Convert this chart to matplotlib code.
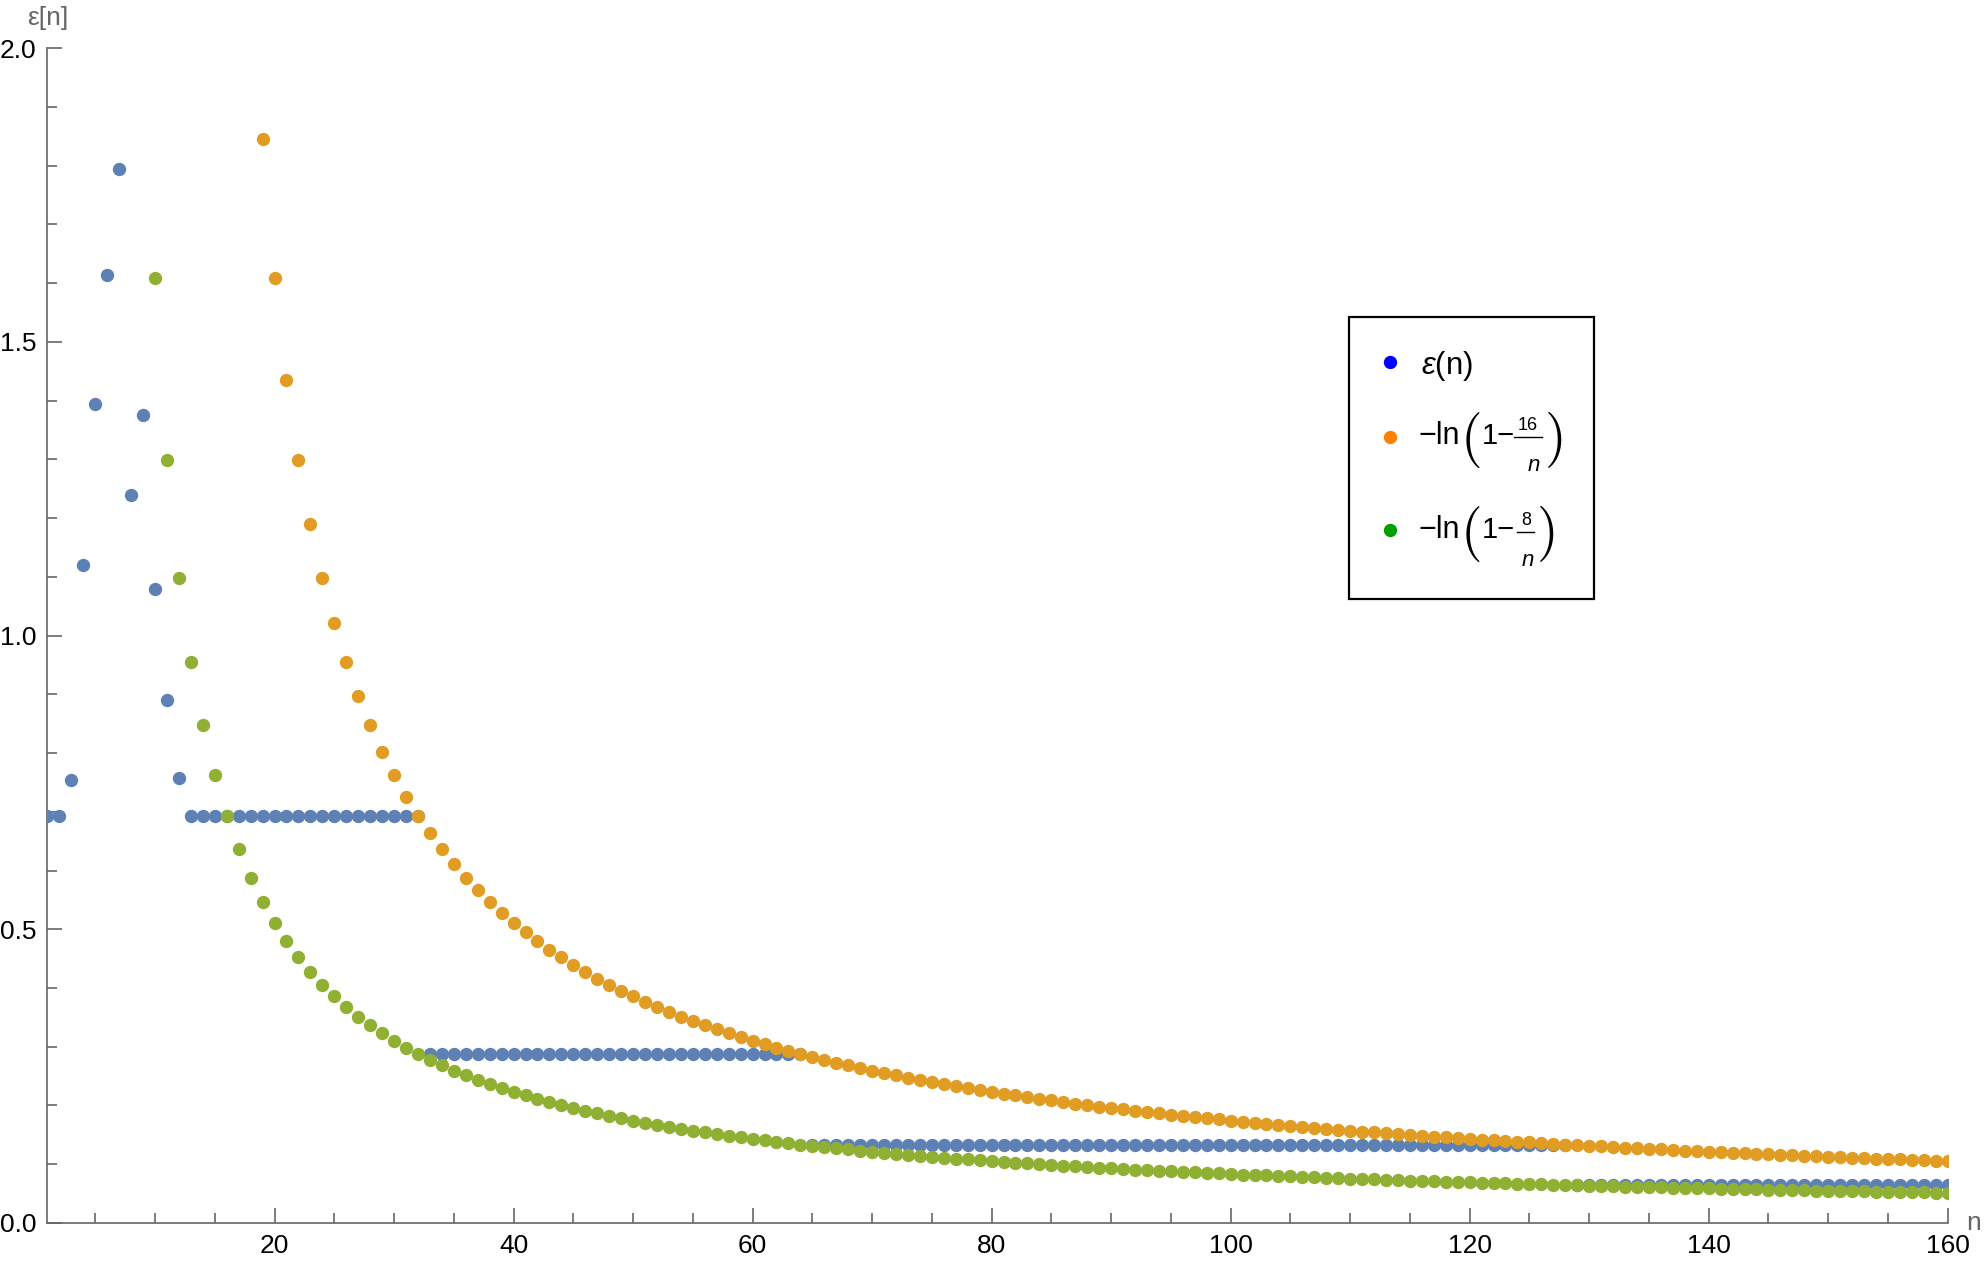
import matplotlib
matplotlib.use("Agg")
import matplotlib.pyplot as plt
from matplotlib.lines import Line2D
from matplotlib.patches import Rectangle
from matplotlib.ticker import MultipleLocator

plt.rcParams['font.family'] = ['Liberation Sans', 'DejaVu Sans']
plt.rcParams['mathtext.fontset'] = 'custom'
plt.rcParams['mathtext.rm'] = 'Liberation Sans'
plt.rcParams['mathtext.it'] = 'Liberation Sans:italic'
plt.rcParams['mathtext.bf'] = 'Liberation Sans:bold'

# ---------------- data ----------------
eps_n = list(range(1, 161))
eps_vals = [
    0.6931, 0.6931, 0.754, 1.120, 1.394, 1.614, 1.795, 1.239, 1.376, 1.079,
    0.890, 0.758, 0.6931, 0.6931, 0.6931, 0.6931, 0.6931, 0.6931, 0.6931, 0.6931,
    0.6931, 0.6931, 0.6931, 0.6931, 0.6931, 0.6931, 0.6931, 0.6931, 0.6931, 0.6931,
    0.6931, 0.6931, 0.2877, 0.2877, 0.2877, 0.2877, 0.2877, 0.2877, 0.2877, 0.2877,
    0.2877, 0.2877, 0.2877, 0.2877, 0.2877, 0.2877, 0.2877, 0.2877, 0.2877, 0.2877,
    0.2877, 0.2877, 0.2877, 0.2877, 0.2877, 0.2877, 0.2877, 0.2877, 0.2877, 0.2877,
    0.2877, 0.2877, 0.2877, 0.2877, 0.1335, 0.1335, 0.1335, 0.1335, 0.1335, 0.1335,
    0.1335, 0.1335, 0.1335, 0.1335, 0.1335, 0.1335, 0.1335, 0.1335, 0.1335, 0.1335,
    0.1335, 0.1335, 0.1335, 0.1335, 0.1335, 0.1335, 0.1335, 0.1335, 0.1335, 0.1335,
    0.1335, 0.1335, 0.1335, 0.1335, 0.1335, 0.1335, 0.1335, 0.1335, 0.1335, 0.1335,
    0.1335, 0.1335, 0.1335, 0.1335, 0.1335, 0.1335, 0.1335, 0.1335, 0.1335, 0.1335,
    0.1335, 0.1335, 0.1335, 0.1335, 0.1335, 0.1335, 0.1335, 0.1335, 0.1335, 0.1335,
    0.1335, 0.1335, 0.1335, 0.1335, 0.1335, 0.1335, 0.1335, 0.1335, 0.0645, 0.0645,
    0.0645, 0.0645, 0.0645, 0.0645, 0.0645, 0.0645, 0.0645, 0.0645, 0.0645, 0.0645,
    0.0645, 0.0645, 0.0645, 0.0645, 0.0645, 0.0645, 0.0645, 0.0645, 0.0645, 0.0645,
    0.0645, 0.0645, 0.0645, 0.0645, 0.0645, 0.0645, 0.0645, 0.0645, 0.0645, 0.0645,
]

orange_n = list(range(19, 161))
orange_vals = [
    1.8458,
    1.6094, 1.4351, 1.2993, 1.1896, 1.0986, 1.0217, 0.9555, 0.8979, 0.8473, 0.8023,
    0.7621, 0.7259, 0.6931, 0.6633, 0.6360, 0.6109, 0.5878, 0.5664, 0.5465, 0.5281,
    0.5108, 0.4947, 0.4796, 0.4654, 0.4520, 0.4394, 0.4274, 0.4162, 0.4055, 0.3953,
    0.3857, 0.3765, 0.3677, 0.3594, 0.3514, 0.3438, 0.3365, 0.3295, 0.3228, 0.3163,
    0.3102, 0.3042, 0.2985, 0.2930, 0.2877, 0.2826, 0.2776, 0.2729, 0.2683, 0.2638,
    0.2595, 0.2553, 0.2513, 0.2474, 0.2436, 0.2400, 0.2364, 0.2329, 0.2296, 0.2263,
    0.2231, 0.2201, 0.2171, 0.2141, 0.2113, 0.2085, 0.2059, 0.2032, 0.2007, 0.1982,
    0.1957, 0.1934, 0.1911, 0.1888, 0.1866, 0.1844, 0.1823, 0.1803, 0.1782, 0.1763,
    0.1744, 0.1725, 0.1706, 0.1688, 0.1671, 0.1653, 0.1636, 0.1620, 0.1603, 0.1587,
    0.1572, 0.1557, 0.1542, 0.1527, 0.1512, 0.1498, 0.1484, 0.1471, 0.1457, 0.1444,
    0.1431, 0.1418, 0.1406, 0.1394, 0.1382, 0.1370, 0.1358, 0.1347, 0.1335, 0.1324,
    0.1313, 0.1303, 0.1292, 0.1282, 0.1272, 0.1262, 0.1252, 0.1242, 0.1232, 0.1223,
    0.1214, 0.1204, 0.1195, 0.1187, 0.1178, 0.1169, 0.1161, 0.1152, 0.1144, 0.1136,
    0.1128, 0.1120, 0.1112, 0.1105, 0.1097, 0.1090, 0.1082, 0.1075, 0.1068, 0.1061,
    0.1054,
]

green_n = list(range(10, 161))
green_vals = [
    1.6094, 1.2993, 1.0986, 0.9555, 0.8473, 0.7621, 0.6931, 0.6360, 0.5878, 0.5465,
    0.5108, 0.4796, 0.4520, 0.4274, 0.4055, 0.3857, 0.3677, 0.3514, 0.3365, 0.3228,
    0.3102, 0.2985, 0.2877, 0.2776, 0.2683, 0.2595, 0.2513, 0.2436, 0.2364, 0.2296,
    0.2231, 0.2171, 0.2113, 0.2059, 0.2007, 0.1957, 0.1911, 0.1866, 0.1823, 0.1782,
    0.1744, 0.1706, 0.1671, 0.1636, 0.1603, 0.1572, 0.1542, 0.1512, 0.1484, 0.1457,
    0.1431, 0.1406, 0.1382, 0.1358, 0.1335, 0.1313, 0.1292, 0.1272, 0.1252, 0.1232,
    0.1214, 0.1195, 0.1178, 0.1161, 0.1144, 0.1128, 0.1112, 0.1097, 0.1082, 0.1068,
    0.1054, 0.1040, 0.1027, 0.1014, 0.1001, 0.0988, 0.0976, 0.0965, 0.0953, 0.0942,
    0.0931, 0.0920, 0.0910, 0.0899, 0.0889, 0.0880, 0.0870, 0.0861, 0.0852, 0.0843,
    0.0834, 0.0825, 0.0817, 0.0809, 0.0800, 0.0793, 0.0785, 0.0777, 0.0770, 0.0762,
    0.0755, 0.0748, 0.0741, 0.0734, 0.0728, 0.0721, 0.0715, 0.0708, 0.0702, 0.0696,
    0.0690, 0.0684, 0.0678, 0.0673, 0.0667, 0.0661, 0.0656, 0.0651, 0.0645, 0.0640,
    0.0635, 0.0630, 0.0625, 0.0620, 0.0616, 0.0611, 0.0606, 0.0602, 0.0597, 0.0593,
    0.0588, 0.0584, 0.0580, 0.0576, 0.0572, 0.0568, 0.0564, 0.0560, 0.0556, 0.0552,
    0.0548, 0.0544, 0.0541, 0.0537, 0.0534, 0.0530, 0.0526, 0.0523, 0.0520, 0.0516,
    0.0513,
]

yticks = [0.0, 0.5, 1.0, 1.5, 2.0]
ytick_labels = ['0.0', '0.5', '1.0', '1.5', '2.0']
legend_numerators = ['16', '8']

c_blue, c_orange, c_green = '#5E81B5', '#E19C24', '#8FB032'
leg_colors = ['#0000FF', '#FF8000', '#00A000']

# ---------------- figure ----------------
W, H = 1986, 1263
fig = plt.figure(figsize=(W / 100, H / 100), dpi=100)
ax = fig.add_axes([0.0239, 0.0317, 0.9568, 0.9301])

ms = 9.6
ax.plot(eps_n, eps_vals, 'o', color=c_blue, ms=ms, mew=0, zorder=3)
ax.plot(orange_n, orange_vals, 'o', color=c_orange, ms=ms, mew=0, zorder=4)
ax.plot(green_n, green_vals, 'o', color=c_green, ms=ms, mew=0, zorder=5)

ax.set_xlim(1, 160)
ax.set_ylim(0, 2.0)

axis_gray = '#666666'
for s in ['top', 'right']:
    ax.spines[s].set_visible(False)
for s in ['left', 'bottom']:
    ax.spines[s].set_color(axis_gray)
    ax.spines[s].set_linewidth(1.2)

ax.xaxis.set_major_locator(MultipleLocator(20))
ax.xaxis.set_minor_locator(MultipleLocator(5))
ax.set_yticks(yticks)
ax.set_yticklabels(ytick_labels)
ax.yaxis.set_minor_locator(MultipleLocator(0.1))

ax.tick_params(which='both', direction='in', color=axis_gray, width=1.2,
               labelsize=19, labelcolor='black')
ax.tick_params(which='major', length=11)
ax.tick_params(which='minor', length=7)
ax.tick_params(axis='x', pad=8)
ax.tick_params(axis='y', pad=8)

# axis labels in Mathematica style
ax.annotate('ε[n]', xy=(0, 1), xycoords='axes fraction', xytext=(0, 22),
            textcoords='offset points', ha='center', va='center',
            fontsize=19, color=axis_gray)
ax.annotate('n', xy=(1, 0), xycoords='axes fraction', xytext=(19, 0),
            textcoords='offset points', ha='center', va='center',
            fontsize=19, color=axis_gray)


# ---------------- legend (Mathematica-like, built from pieces) ----------------
def P(x, y):
    """reference pixel -> figure fraction"""
    return x / W, 1 - y / H


box_x0, box_y0, box_x1, box_y1 = 1349, 317, 1594, 599
fx0, fy1 = P(box_x0, box_y0)
fx1, fy0 = P(box_x1, box_y1)
fig.add_artist(Rectangle((fx0, fy0), fx1 - fx0, fy1 - fy0, transform=fig.transFigure,
                         facecolor='white', edgecolor='black', linewidth=1.6, zorder=20))

marker_y = [362, 437, 530]
for c, my in zip(leg_colors, marker_y):
    mx, myf = P(1390, my)
    fig.add_artist(Line2D([mx], [myf], transform=fig.transFigure, marker='o',
                          linestyle='none', color=c, ms=ms, mew=0, zorder=21))

tz = 22
# row 1
fig.text(*P(1421, 374), r'$\varepsilon$(n)', fontsize=22.5, ha='left', va='baseline', zorder=tz)

# rows 2 and 3 : -ln(1 - k/n)
rows = [
    dict(base=444, py=440, rpx=1553, bx0=1514, bx1=1542, by=437,
         numx=1527.5, numb=430, nx=1534, nb=471),
    dict(base=538, py=534, rpx=1545, bx0=1517, bx1=1534, by=532,
         numx=1526, numb=525, nx=1528, nb=566),
]
for num, r in zip(legend_numerators, rows):
    fig.text(*P(1418, r['base']), '\u2212ln', fontsize=22, ha='left', va='baseline', zorder=tz)
    fig.text(*P(1470.5, r['py']), r'$($', math_fontfamily='cm', fontsize=40,
             ha='center', va='center', zorder=tz)
    fig.text(*P(1482, r['base']), '1\u2212', fontsize=21, ha='left', va='baseline', zorder=tz)
    bx0, byf = P(r['bx0'], r['by'])
    bx1, _ = P(r['bx1'], r['by'])
    fig.add_artist(Line2D([bx0, bx1], [byf, byf], transform=fig.transFigure,
                          color='black', lw=1.0, zorder=tz))
    fig.text(*P(r['numx'], r['numb']), num, fontsize=13, ha='center', va='baseline', zorder=tz)
    fig.text(*P(r['nx'], r['nb']), 'n', fontsize=16, style='italic', ha='center',
             va='baseline', zorder=tz)
    fig.text(*P(r['rpx'], r['py']), r'$)$', math_fontfamily='cm', fontsize=40,
             ha='center', va='center', zorder=tz)

fig.savefig('out.png', dpi=100)
